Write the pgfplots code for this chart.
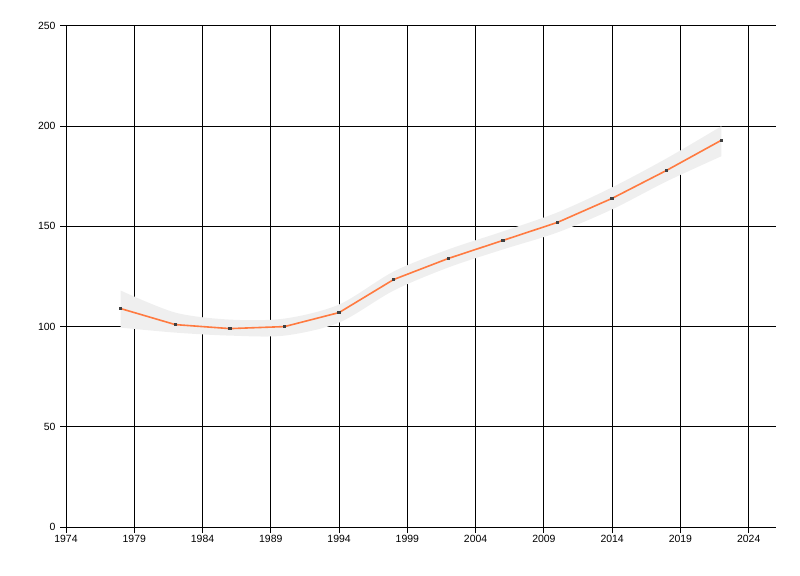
\documentclass[border=0pt]{standalone}
\usepackage{fontspec}
\setmainfont{Liberation Sans}
\usepackage{pgfplots}
\pgfplotsset{compat=1.18}
\usepgfplotslibrary{fillbetween}

\definecolor{lineorange}{RGB}{255,122,64}
\definecolor{bandgray}{RGB}{239,239,239}
\definecolor{markgray}{RGB}{64,64,64}

\begin{document}
\begin{tikzpicture}
\begin{axis}[
  name=ax,
  scale only axis,
  width=710bp, height=501bp,
  xmin=1974, xmax=2026,
  ymin=0, ymax=250,
  xtick={1974,1979,...,2024},
  ytick={0,50,...,250},
  axis lines=left,
  axis line style={-, line width=1bp, black},
  grid=major,
  grid style={line width=1bp, black},
  tick align=outside,
  major tick length=6bp,
  tick style={line width=1bp, black},
  tick label style={font=\fontsize{10.5}{12}\selectfont},
  /pgf/number format/assume math mode=true,
  /pgf/number format/1000 sep={},
  xticklabel style={yshift=1bp},
  yticklabel style={xshift=-1bp},
  clip=false,
]
% confidence band
\addplot[name path=upper, draw=none, smooth] coordinates {
  (1978,118) (1982,107) (1986,103.5) (1990,104) (1994,111) (1998,127.5)
  (2002,138.5) (2006,147.5) (2010,157) (2014,169.5) (2018,184) (2022,200)};
\addplot[name path=lower, draw=none, smooth] coordinates {
  (1978,99.5) (1982,97) (1986,95.5) (1990,95.5) (1994,102) (1998,118)
  (2002,129.5) (2006,138.5) (2010,147) (2014,158.5) (2018,172.5) (2022,185)};
\addplot[bandgray, draw=none] fill between[of=upper and lower];
% trend line
\addplot[lineorange, line width=1.6bp, mark=square*, mark size=0.9bp,
  mark options={draw=markgray, fill=markgray}] coordinates {
  (1978,109) (1982,101) (1986,99) (1990,100) (1994,107) (1998,123.5)
  (2002,134) (2006,143) (2010,152) (2014,164) (2018,178) (2022,193)};
\end{axis}
\pgfresetboundingbox
\path (ax.south west) ++(-66bp,-49bp) coordinate (bl);
\path (ax.north east) ++(24bp,26bp) coordinate (tr);
\path (bl) rectangle (tr);
\end{tikzpicture}
\end{document}
